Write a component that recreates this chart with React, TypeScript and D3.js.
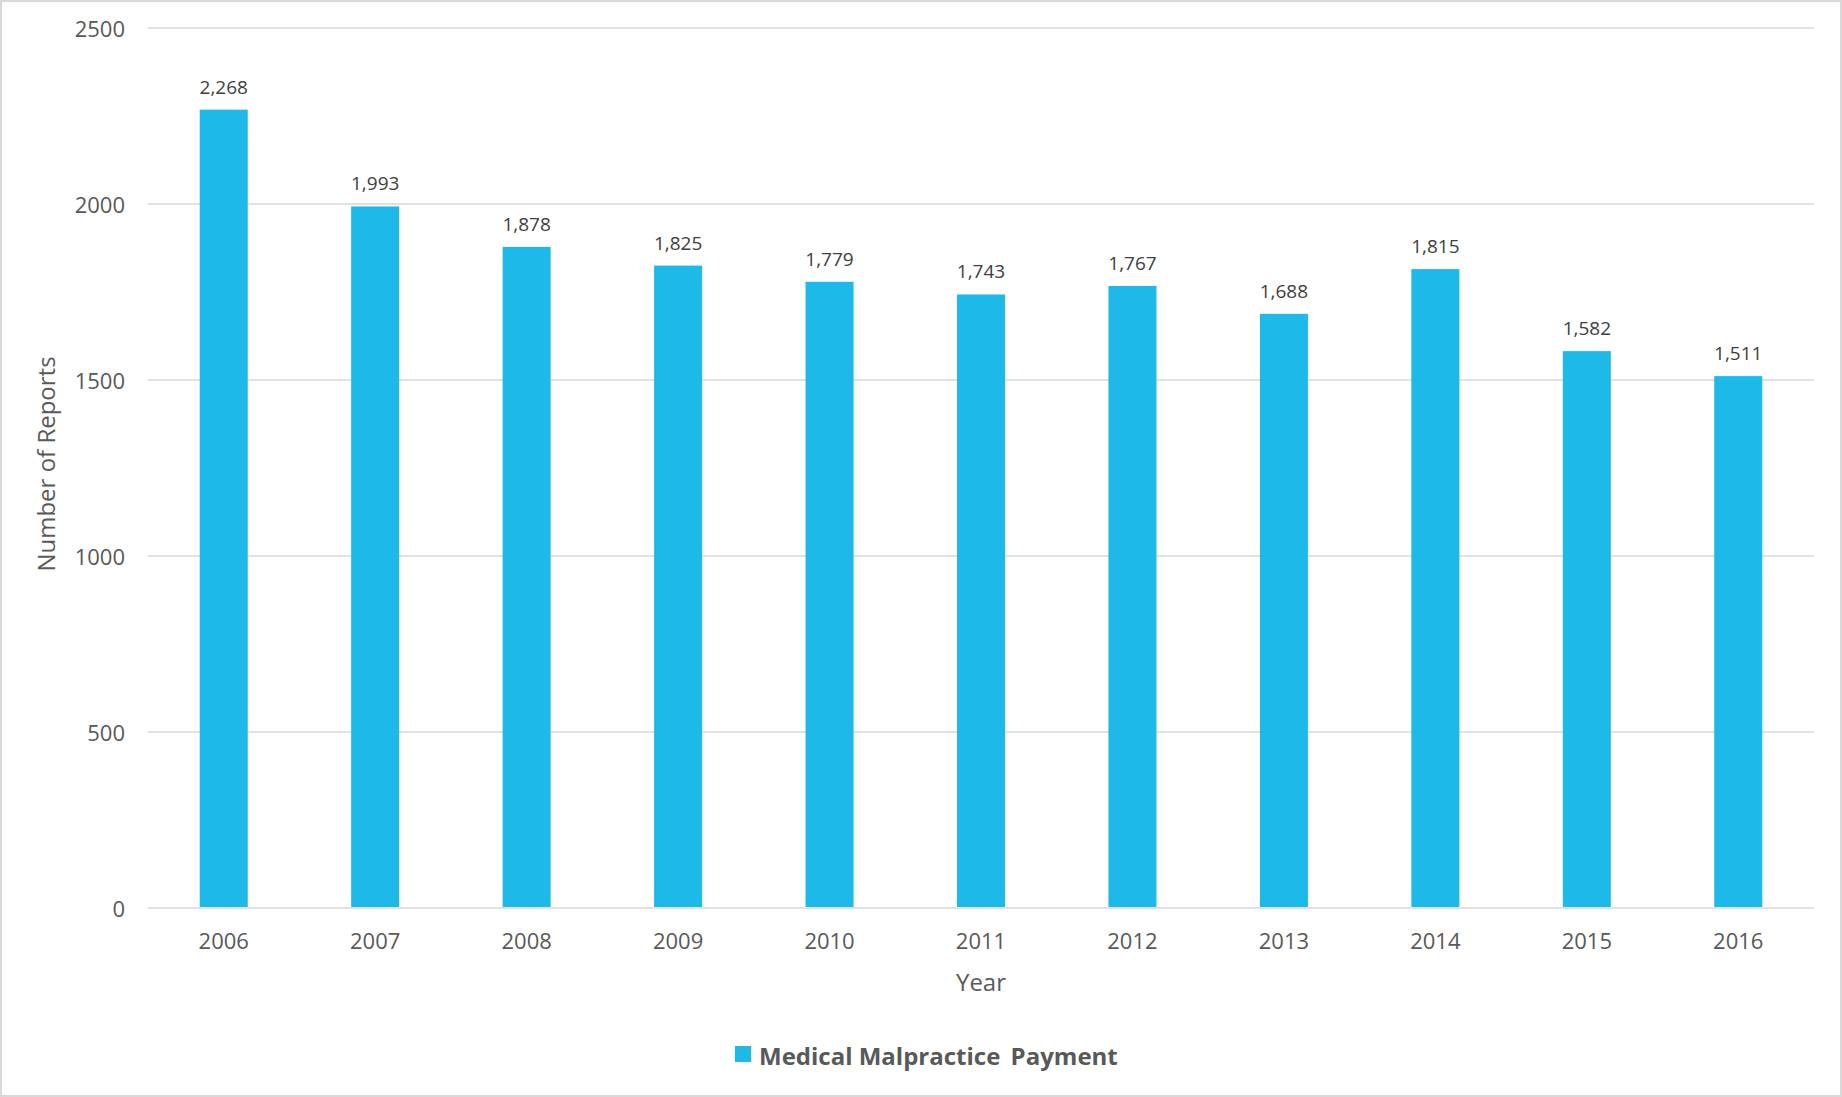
import React, { useEffect } from "react";
import * as d3 from "d3";

const years = ["2006", "2007", "2008", "2009", "2010", "2011", "2012", "2013", "2014", "2015", "2016"];
const payments = [2268, 1993, 1878, 1825, 1779, 1743, 1767, 1688, 1815, 1582, 1511];
const yTicks = [0, 500, 1000, 1500, 2000, 2500];
const seriesName = "Medical Malpractice Payment";

const W = 1842;
const H = 1097;
const FONT = "'Open Sans', 'DejaVu Sans', sans-serif";
const BAR = "#1CB9E9";
const GRID = "#D9D9D9";
const TXT = "#595959";

export default function App() {
  useEffect(() => {
    document.body.style.margin = "0";
  }, []);

  const x = d3.scaleBand<string>().domain(years).range([148, 1814]).paddingInner(0.683).paddingOuter(0.3415);
  const y = d3.scaleLinear().domain([0, 2500]).range([908, 28]);
  const fmt = d3.format(",");

  return (
    <svg width={W} height={H} style={{ display: "block", position: "absolute", left: 0, top: 0 }} fontFamily={FONT}>
      <rect x={0} y={0} width={W} height={H} fill="#fff" />
      <rect x={1} y={1} width={W - 2} height={H - 2} fill="none" stroke={GRID} strokeWidth={2} />
      {yTicks.map((t) => (
        <g key={t}>
          <line x1={148} x2={1814} y1={y(t)} y2={y(t)} stroke={GRID} strokeWidth={1.5} />
          <text x={125} y={y(t) + 9} textAnchor="end" fontSize={22} fill={TXT}>
            {t}
          </text>
        </g>
      ))}
      {years.map((yr, i) => {
        const bx = x(yr) as number;
        const bw = x.bandwidth();
        const v = payments[i];
        return (
          <g key={yr}>
            <rect x={bx} y={y(v)} width={bw} height={y(0) - y(v) - 1} fill={BAR} />
            <text x={bx + bw / 2} y={y(v) - 16} textAnchor="middle" fontSize={19} fill="#404040">
              {fmt(v)}
            </text>
            <text x={bx + bw / 2} y={949} textAnchor="middle" fontSize={22} fill={TXT}>
              {yr}
            </text>
          </g>
        );
      })}
      <text x={981} y={991} textAnchor="middle" fontSize={24} fill={TXT}>
        Year
      </text>
      <text transform={`translate(55,464) rotate(-90)`} textAnchor="middle" fontSize={24} fill={TXT}>
        Number of Reports
      </text>
      <rect x={735} y={1046} width={16} height={16} fill={BAR} />
      <text x={759} y={1065} fontSize={24} fontWeight="bold" fill={TXT}>
        {seriesName.split(" ").map((w, i) => (
          <tspan key={i} dx={i === 2 ? 4 : 0}>
            {(i === 0 ? "" : " ") + w}
          </tspan>
        ))}
      </text>
    </svg>
  );
}
